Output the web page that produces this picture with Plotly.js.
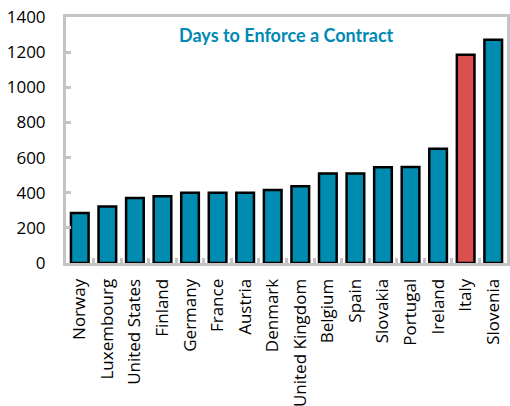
<!DOCTYPE html>
<html><head><meta charset="utf-8">
<script src="https://cdn.plot.ly/plotly-3.0.1.min.js"></script>
<style>html,body{margin:0;padding:0;background:#fff}#chart{width:510px;height:406px}</style>
</head><body><div id="chart"></div>
<script>
const countries = ["Norway","Luxembourg","United States","Finland","Germany","France","Austria","Denmark","United Kingdom","Belgium","Spain","Slovakia","Portugal","Ireland","Italy","Slovenia"];
const days = [285, 321, 370, 380, 400, 400, 400, 415, 437, 510, 510, 545, 547, 650, 1185, 1270];
const highlight = "Italy";
const yTicks = [0, 200, 400, 600, 800, 1000, 1200, 1400];

const colors = countries.map(c => c === highlight ? "#DB504E" : "#008BB0");

Plotly.newPlot("chart", [{
  type: "bar",
  x: countries,
  y: days,
  width: 0.64,
  marker: {color: colors, line: {color: "#000", width: 2.5}},
  hoverinfo: "x+y"
}], {
  width: 510, height: 406,
  margin: {l: 66, r: 3, t: 17, b: 143},
  paper_bgcolor: "#fff", plot_bgcolor: "#fff",
  showlegend: false,
  font: {family: "Open Sans, sans-serif", size: 17, color: "#000"},
  xaxis: {
    type: "category", tickangle: -90, showline: true, linecolor: "#C4C4C4", linewidth: 3,
    mirror: true, ticks: "inside", tickson: "boundaries", ticklen: 5, tickwidth: 3, tickcolor: "#C4C4C4",
    showgrid: false, tickfont: {size: 17, color: "#000"}, ticklabelstandoff: 6, fixedrange: true
  },
  yaxis: {
    range: [0, 1400], tickvals: yTicks, ticktext: yTicks.map(String), showline: true, linecolor: "#C4C4C4", linewidth: 3,
    mirror: true, ticks: "inside", ticklen: 5, tickwidth: 3, tickcolor: "#C4C4C4",
    showgrid: false, zeroline: false, tickfont: {size: 17, color: "#000"}, ticklabelstandoff: 14, fixedrange: true
  },
  annotations: [{
    text: "<b>Days to Enforce a Contract</b>", xref: "paper", yref: "paper", x: 0.5, y: 0.925,
    xanchor: "center", yanchor: "middle", showarrow: false,
    font: {family: "Lato, sans-serif", size: 18, color: "#0089B4"}
  }]
}, {displayModeBar: false, staticPlot: true});
</script></body></html>
